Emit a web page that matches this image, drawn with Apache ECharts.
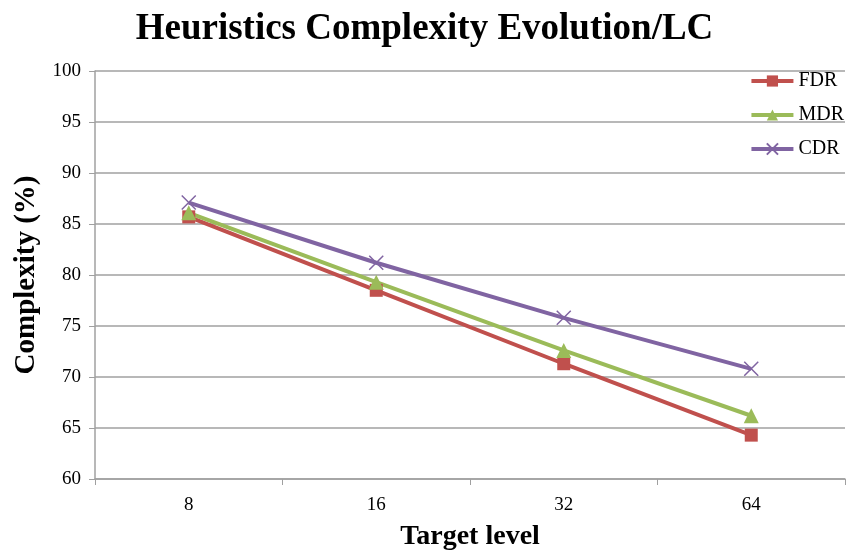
<!DOCTYPE html>
<html><head><meta charset="utf-8">
<script src="https://cdn.jsdelivr.net/npm/echarts@6/dist/echarts.min.js"></script>
<style>html,body{margin:0;padding:0;background:#fff}#c{width:849px;height:553px}</style>
</head><body><div id="c"></div>
<script>
const categories = ['8', '16', '32', '64'];
const fdr = [85.7, 78.5, 71.3, 64.3];
const mdr = [86.1, 79.3, 72.6, 66.2];
const cdr = [87.1, 81.2, 75.8, 70.8];
const yTicks = {min: 60, max: 100, interval: 5};

const serif = '"Liberation Serif", "DejaVu Serif", serif';
const chart = echarts.init(document.getElementById('c'));
chart.setOption({
  animation: false,
  backgroundColor: '#fff',
  title: {
    text: 'Heuristics Complexity Evolution/LC',
    left: 'center', top: 6,
    textStyle: {fontFamily: serif, fontWeight: 'bold', fontSize: 37, color: '#000'}
  },
  legend: {
    orient: 'vertical', right: 0, top: 66, itemGap: 14,
    itemWidth: 42, itemHeight: 14,
    lineStyle: {width: 4},
    textStyle: {fontFamily: serif, fontSize: 20, color: '#000'},
    data: ['FDR', 'MDR', 'CDR']
  },
  grid: {left: 95, right: 4, top: 71, bottom: 74, outerBoundsMode: 'none'},
  xAxis: {
    type: 'category', data: categories,
    name: 'Target level', nameLocation: 'middle', nameGap: 44,
    nameTextStyle: {fontFamily: serif, fontWeight: 'bold', fontSize: 28, color: '#000'},
    axisLine: {lineStyle: {color: '#a0a0a0', width: 1.5}},
    axisTick: {show: true, alignWithLabel: false, length: 6, lineStyle: {color: '#a0a0a0'}},
    axisLabel: {fontFamily: serif, fontSize: 19, color: '#000', margin: 17}
  },
  yAxis: {
    type: 'value', min: yTicks.min, max: yTicks.max, interval: yTicks.interval,
    name: 'Complexity (%)', nameLocation: 'middle', nameGap: 54, nameRotate: 90,
    nameTextStyle: {fontFamily: serif, fontWeight: 'bold', fontSize: 29, color: '#000'},
    axisLine: {show: true, lineStyle: {color: '#a0a0a0', width: 1.5}},
    axisTick: {show: true, length: 6, lineStyle: {color: '#a0a0a0'}},
    axisLabel: {fontFamily: serif, fontSize: 19, color: '#000', margin: 14},
    splitLine: {lineStyle: {color: '#a0a0a0', width: 1.5}}
  },
  series: [
    {name: 'FDR', type: 'line', data: fdr, symbol: 'rect', symbolSize: 13,
     lineStyle: {color: '#C0504D', width: 4}, itemStyle: {color: '#C0504D'}},
    {name: 'MDR', type: 'line', data: mdr, symbol: 'triangle', symbolSize: 15,
     lineStyle: {color: '#9BBB59', width: 4}, itemStyle: {color: '#9BBB59'}},
    {name: 'CDR', type: 'line', data: cdr, symbol: 'path://M0,0L10,10M10,0L0,10', symbolSize: 14,
     lineStyle: {color: '#8064A2', width: 4},
     itemStyle: {color: 'none', borderColor: '#8064A2', borderWidth: 1.5}}
  ]
});
</script></body></html>
